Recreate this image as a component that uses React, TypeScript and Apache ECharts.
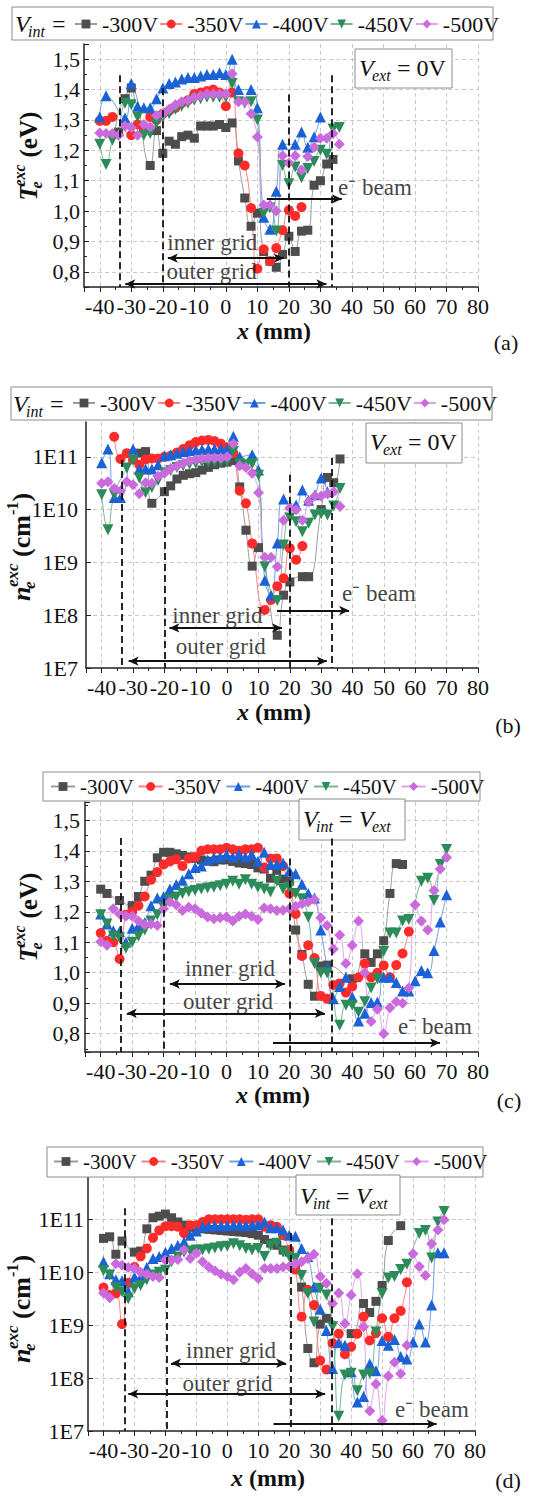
import React, { useEffect, useRef } from "react";
import * as echarts from "echarts";

const SERIF = "'Liberation Serif', 'Times New Roman', serif";

const seriesNames = ["-300V", "-350V", "-400V", "-450V", "-500V"];
const markerColors = ["#4d4d4d", "#ff2b2b", "#1b62d6", "#2b8c5a", "#c96bdc"];
const lineColors = ["#9a9a9a", "#ff8080", "#6f9de2", "#76b596", "#dda2ea"];
const markerShapes = ["rect", "circle", "triangle", "triangle", "diamond"];
const markerRotate = [0, 0, 0, 180, 0];
const markerSizes = [9, 10, 11, 11, 11];

const xTickLabels = ["-40", "-30", "-20", "-10", "0", "10", "20", "30", "40", "50", "60", "70", "80"];

// (a) T_e^exc (eV), V_ext = 0V
const teA300 = [[-34,1.26],[-32,1.37],[-30,1.405],[-24,1.15],[-22,1.265],[-20,1.19],[-18,1.23],[-16,1.22],[-14,1.245],[-12,1.25],[-10,1.24],[-8,1.28],[-6,1.28],[-4,1.28],[-2,1.285],[0,1.275],[2,1.29],[4,1.165],[6,1.043],[8,0.95],[10,0.993],[12,0.867],[14,0.835],[16,0.815],[18,0.857],[20,0.917],[22,0.867],[24,0.934],[26,0.937],[28,1.085],[30,1.1],[32,1.155],[34,1.17]];
const teA350 = [[-40,1.297],[-38,1.297],[-36,1.31],[-30,1.25],[-28,1.285],[-26,1.27],[-24,1.31],[-22,1.3],[-20,1.32],[-18,1.33],[-16,1.34],[-14,1.355],[-12,1.365],[-10,1.385],[-8,1.39],[-6,1.395],[-4,1.4],[-2,1.39],[0,1.345],[2,1.39],[4,1.19],[6,1.15],[8,1.01],[10,0.81],[12,0.874],[14,0.835],[16,0.878],[18,0.937],[20,1.003],[22,0.984],[24,1.013]];
const teA400 = [[-40,1.31],[-38,1.38],[-32,1.306],[-30,1.42],[-28,1.345],[-26,1.34],[-24,1.34],[-22,1.37],[-20,1.405],[-18,1.42],[-16,1.425],[-14,1.435],[-12,1.44],[-10,1.44],[-8,1.445],[-6,1.45],[-4,1.45],[-2,1.455],[0,1.45],[2,1.5],[4,1.4],[8,1.4],[10,1.34],[12,0.98],[14,0.94],[16,1.065],[18,1.22],[22,1.22],[24,1.26],[26,1.21],[28,1.245],[30,1.31]];
const teA450 = [[-40,1.22],[-38,1.153],[-36,1.233],[-32,1.355],[-30,1.35],[-28,1.31],[-26,1.25],[-24,1.255],[-22,1.29],[-20,1.31],[-18,1.32],[-16,1.335],[-14,1.345],[-12,1.355],[-10,1.365],[-8,1.37],[-6,1.375],[-4,1.375],[-2,1.375],[0,1.375],[2,1.42],[4,1.36],[6,1.355],[8,1.36],[10,1.3],[12,0.993],[14,1.01],[16,0.934],[18,1.15],[20,1.09],[22,1.145],[24,1.11],[26,1.14],[28,1.163],[30,1.2],[32,1.187],[34,1.27],[36,1.275]];
const teA500 = [[-40,1.257],[-38,1.255],[-36,1.255],[-34,1.25],[-32,1.28],[-30,1.275],[-28,1.25],[-26,1.285],[-24,1.277],[-22,1.315],[-20,1.32],[-18,1.335],[-16,1.35],[-14,1.36],[-12,1.365],[-10,1.375],[-8,1.38],[-6,1.385],[-4,1.385],[-2,1.385],[0,1.385],[2,1.452],[4,1.36],[6,1.36],[8,1.32],[10,1.244],[12,1.02],[14,1.02],[16,1.0],[18,1.182],[20,1.158],[22,1.182],[24,1.135],[26,1.18],[28,1.21],[30,1.24],[32,1.24],[34,1.255],[36,1.22]];

// (b) log10 of n_e^exc (cm^-1), V_ext = 0V
const neB300 = [[-28,11.07],[-26,11.1],[-24,10.12],[-20,10.34],[-18,10.45],[-16,10.58],[-14,10.65],[-12,10.68],[-10,10.7],[-8,10.75],[-6,10.8],[-4,10.85],[-2,10.88],[0,10.9],[2,10.93],[4,10.43],[6,9.61],[8,8.93],[10,9.28],[16,7.62],[18,8.38],[20,8.63],[24,8.73],[26,8.73],[30,10.0],[32,10.61],[34,10.51],[36,10.96]];
const neB350 = [[-36,11.38],[-34,10.96],[-32,11.07],[-30,10.95],[-28,10.85],[-26,10.95],[-24,10.97],[-22,10.97],[-20,11.0],[-18,11.02],[-16,11.08],[-14,11.15],[-12,11.22],[-10,11.28],[-8,11.31],[-6,11.32],[-4,11.3],[-2,11.25],[0,11.18],[2,11.07],[4,10.36],[6,10.12],[8,9.36],[12,8.1],[14,8.29],[16,8.55],[18,8.7],[20,9.27],[22,9.05],[24,9.31]];
const neB400 = [[-40,10.89],[-38,11.15],[-36,10.23],[-34,10.23],[-30,11.15],[-28,10.77],[-26,10.77],[-24,10.77],[-22,10.85],[-20,11.02],[-18,11.04],[-16,11.07],[-14,11.1],[-12,11.12],[-10,11.13],[-8,11.14],[-6,11.15],[-4,11.15],[-2,11.15],[0,11.15],[2,11.39],[4,11.0],[8,11.04],[10,10.75],[12,8.66],[14,8.38],[16,9.37],[18,10.2],[22,10.09],[24,10.37],[26,10.18],[28,10.28],[30,10.6],[32,10.34]];
const neB450 = [[-40,10.28],[-38,9.62],[-36,10.28],[-32,10.79],[-30,10.94],[-28,10.6],[-26,10.32],[-24,10.42],[-22,10.55],[-20,10.7],[-18,10.74],[-16,10.8],[-14,10.83],[-12,10.86],[-10,10.88],[-8,10.9],[-6,10.9],[-4,10.9],[-2,10.9],[0,10.9],[2,11.1],[4,10.87],[6,10.85],[8,10.87],[10,10.65],[12,8.92],[16,8.28],[18,9.33],[20,9.84],[22,9.77],[24,9.58],[26,9.74],[28,9.9],[30,9.92],[32,9.9],[34,10.07],[36,10.4]];
const neB500 = [[-40,10.5],[-38,10.53],[-36,10.4],[-34,10.36],[-32,10.53],[-30,10.47],[-28,10.3],[-26,10.51],[-24,10.5],[-22,10.63],[-20,10.69],[-18,10.78],[-16,10.82],[-14,10.88],[-12,10.92],[-10,10.95],[-8,10.97],[-6,10.98],[-4,10.98],[-2,10.98],[0,11.0],[2,11.25],[4,10.83],[6,10.8],[8,10.69],[10,10.32],[12,9.1],[14,9.1],[16,8.92],[18,9.8],[20,10.03],[22,10.0],[24,9.8],[26,10.15],[28,10.26],[30,10.26],[32,10.3],[34,10.34],[36,10.06]];

// (c) T_e^exc (eV), V_int = V_ext
const teC300 = [[-40,1.274],[-38,1.26],[-34,1.237],[-30,1.22],[-28,1.25],[-26,1.3],[-24,1.32],[-22,1.377],[-20,1.395],[-18,1.395],[-16,1.39],[-14,1.385],[-12,1.38],[-10,1.375],[-8,1.37],[-6,1.366],[-4,1.364],[-2,1.37],[0,1.37],[2,1.365],[4,1.36],[6,1.358],[8,1.355],[10,1.344],[12,1.34],[14,1.31],[16,1.336],[18,1.307],[20,1.3],[22,1.14],[24,1.06],[26,0.962],[28,0.923],[30,1.022],[32,1.025],[40,0.98],[44,1.062],[46,1.034],[48,1.062],[50,1.105],[52,1.26],[54,1.358],[56,1.355]];
const teC350 = [[-40,1.13],[-38,1.105],[-36,1.1],[-34,1.045],[-32,1.19],[-30,1.2],[-28,1.22],[-26,1.25],[-24,1.305],[-22,1.33],[-20,1.355],[-18,1.365],[-16,1.372],[-14,1.35],[-12,1.375],[-10,1.38],[-8,1.4],[-6,1.405],[-4,1.405],[-2,1.405],[0,1.41],[2,1.405],[4,1.4],[6,1.405],[8,1.405],[10,1.41],[12,1.345],[14,1.375],[16,1.375],[18,1.35],[20,1.26],[22,1.193],[24,1.055],[26,1.09],[28,1.048],[30,0.924],[32,0.915],[34,0.96],[36,0.965],[38,0.935],[40,0.955],[42,0.985],[44,1.03],[46,0.985],[48,1.0],[50,1.024],[52,0.985],[54,1.025],[56,1.063],[58,1.135]];
const teC400 = [[-40,1.193],[-38,1.16],[-36,1.138],[-34,1.135],[-32,1.1],[-30,1.146],[-28,1.153],[-26,1.165],[-24,1.22],[-22,1.245],[-20,1.25],[-18,1.275],[-16,1.289],[-14,1.303],[-12,1.325],[-10,1.345],[-8,1.35],[-6,1.37],[-4,1.378],[-2,1.38],[0,1.388],[2,1.38],[4,1.388],[6,1.38],[8,1.388],[10,1.366],[12,1.395],[14,1.355],[16,1.355],[18,1.36],[20,1.334],[22,1.325],[24,1.29],[26,1.26],[28,1.245],[30,1.14],[32,1.018],[34,0.915],[36,0.955],[38,0.985],[40,0.92],[42,0.842],[44,0.867],[46,0.902],[48,0.904],[50,0.985],[52,0.985],[54,0.968],[56,0.94],[58,0.94],[60,0.974],[62,1.007],[64,1.0],[66,1.073],[68,1.166],[70,1.256]];
const teC450 = [[-40,1.19],[-38,1.16],[-36,1.12],[-34,1.114],[-32,1.08],[-30,1.1],[-28,1.12],[-26,1.14],[-24,1.17],[-22,1.19],[-20,1.215],[-18,1.24],[-16,1.248],[-14,1.26],[-12,1.266],[-10,1.27],[-8,1.275],[-6,1.278],[-4,1.28],[-2,1.285],[0,1.29],[2,1.3],[4,1.29],[6,1.305],[8,1.29],[10,1.28],[12,1.275],[14,1.265],[16,1.3],[18,1.275],[20,1.28],[22,1.26],[24,1.243],[26,1.182],[28,1.03],[30,1.0],[32,0.999],[36,0.828],[38,0.893],[40,0.893],[42,0.87],[44,0.905],[46,0.95],[48,0.98],[50,1.07],[52,1.13],[54,1.13],[56,1.17],[58,1.175],[62,1.3],[64,1.31],[66,1.237],[68,1.355],[70,1.404]];
const teC500 = [[-40,1.102],[-38,1.09],[-36,1.21],[-34,1.193],[-32,1.186],[-30,1.186],[-28,1.17],[-26,1.157],[-24,1.16],[-22,1.155],[-20,1.21],[-18,1.232],[-16,1.223],[-14,1.204],[-12,1.215],[-10,1.21],[-8,1.195],[-6,1.183],[-4,1.177],[-2,1.18],[0,1.183],[2,1.17],[4,1.185],[6,1.193],[8,1.185],[10,1.175],[12,1.212],[14,1.21],[16,1.204],[18,1.205],[20,1.21],[22,1.218],[24,1.226],[26,1.232],[28,1.24],[30,1.18],[32,1.155],[34,1.078],[36,1.124],[38,1.03],[40,1.09],[42,1.17],[44,1.0],[46,0.84],[48,0.88],[50,0.8],[52,0.885],[54,0.905],[56,0.9],[58,0.95],[60,1.223],[62,1.17],[64,1.14],[66,1.27],[68,1.34],[70,1.378]];

// (d) log10 of n_e^exc (cm^-1), V_int = V_ext
const neD300 = [[-40,10.64],[-38,10.67],[-36,10.34],[-34,10.59],[-30,10.38],[-28,10.4],[-26,10.82],[-24,11.03],[-22,11.06],[-20,11.1],[-18,11.03],[-16,10.95],[-14,10.89],[-12,10.85],[-10,10.83],[-8,10.82],[-6,10.81],[-4,10.8],[-2,10.79],[0,10.78],[2,10.77],[4,10.76],[6,10.75],[8,10.73],[10,10.7],[12,10.62],[14,10.55],[16,10.51],[18,10.42],[20,10.38],[22,10.1],[24,9.72],[26,8.56],[28,8.29],[30,9.02],[32,9.13],[40,8.84],[44,9.41],[46,9.24],[48,9.45],[50,9.75],[52,10.6],[56,10.88]];
const neD350 = [[-40,9.71],[-38,9.57],[-36,9.6],[-34,9.02],[-32,9.8],[-30,10.1],[-28,10.3],[-26,10.45],[-24,10.65],[-22,10.79],[-20,10.87],[-18,10.87],[-16,10.86],[-14,10.74],[-12,10.89],[-10,10.89],[-8,10.95],[-6,11.0],[-4,11.0],[-2,11.0],[0,11.0],[2,11.0],[4,11.0],[6,10.99],[8,11.0],[10,11.0],[12,10.86],[14,10.89],[16,10.86],[18,10.7],[20,10.42],[22,10.05],[24,9.16],[26,9.67],[28,9.38],[30,8.33],[32,8.16],[34,8.66],[36,8.84],[38,8.45],[40,8.59],[42,8.84],[44,9.16],[46,8.71],[48,8.85],[50,9.13],[52,8.78],[54,9.13],[56,9.27],[58,9.81]];
const neD400 = [[-40,10.2],[-38,9.97],[-36,9.86],[-34,9.84],[-32,9.63],[-30,9.91],[-28,9.9],[-26,10.09],[-24,10.26],[-22,10.3],[-20,10.38],[-18,10.45],[-16,10.51],[-14,10.57],[-12,10.7],[-10,10.78],[-8,10.86],[-6,10.87],[-4,10.88],[-2,10.88],[0,10.88],[2,10.89],[4,10.89],[6,10.88],[8,10.9],[10,10.9],[12,10.95],[14,10.84],[16,10.84],[18,10.8],[20,10.7],[22,10.68],[24,10.45],[26,10.3],[28,9.72],[30,9.3],[32,8.9],[34,8.18],[36,8.67],[38,8.62],[40,8.12],[42,7.55],[44,7.65],[46,8.27],[48,8.14],[50,8.71],[52,8.62],[54,8.73],[56,8.41],[58,8.36],[60,8.68],[62,9.02],[64,8.68],[66,9.38],[68,10.37],[70,10.37]];
const neD450 = [[-40,10.03],[-38,9.95],[-36,9.71],[-34,9.63],[-32,9.5],[-30,9.69],[-28,9.75],[-26,9.86],[-24,9.95],[-22,10.0],[-20,10.04],[-18,10.2],[-16,10.29],[-14,10.38],[-12,10.4],[-10,10.42],[-8,10.42],[-6,10.44],[-4,10.46],[-2,10.48],[0,10.49],[2,10.54],[4,10.5],[6,10.45],[8,10.42],[10,10.45],[12,10.3],[14,10.5],[16,10.55],[18,10.38],[20,10.3],[22,10.26],[24,9.94],[26,9.6],[28,9.06],[30,9.7],[32,9.57],[34,8.97],[36,7.28],[38,8.06],[40,8.09],[42,7.76],[44,8.06],[46,8.09],[48,8.87],[50,9.6],[52,9.89],[54,9.92],[56,10.05],[58,10.15],[62,10.73],[64,10.79],[66,10.27],[68,10.95],[70,11.15]];
const neD500 = [[-40,9.61],[-38,9.52],[-36,10.16],[-34,10.13],[-32,10.09],[-30,10.07],[-28,10.0],[-26,9.96],[-24,9.92],[-22,9.9],[-20,10.23],[-18,10.23],[-16,10.24],[-14,10.42],[-12,10.26],[-10,10.36],[-8,10.2],[-6,10.1],[-4,10.03],[-2,9.96],[0,9.92],[2,9.86],[4,10.0],[6,10.07],[8,9.97],[10,9.88],[12,10.07],[14,10.07],[16,10.07],[18,10.1],[20,10.11],[22,10.16],[24,10.2],[26,10.26],[28,10.34],[30,9.92],[32,9.79],[34,9.41],[36,9.61],[38,9.03],[40,9.57],[42,9.97],[44,8.97],[46,7.38],[48,7.89],[50,7.2],[52,8.04],[54,8.3],[56,8.08],[58,8.62],[60,10.35],[62,10.11],[64,9.94],[66,10.54],[68,10.8],[70,10.99]];

// grid-boundary dashed lines: [x, top]
const dashA = [[-33.5, 1.447], [-20, 1.404], [20, 1.384], [33.5, 1.447]];
const dashB = [[-33.5, 10.94], [-20, 10.43], [20, 10.66], [33.5, 10.98]];
const dashC = [[-33.5, 1.442], [-20, 1.243], [20, 1.375], [33.5, 1.44]];
const dashD = [[-33.2, 11.21], [-19.7, 10.29], [20.5, 10.74], [33.8, 11.02]];
// arrows: [x1, x2, y, heads]
const arrowsA = [[-18.4, 18.4, 0.845, 2], [-31.9, 31.9, 0.76, 2], [13, 36.8, 1.04, 1]];
const arrowsB = [[-18.4, 17.5, 7.76, 2], [-31.4, 31.8, 7.13, 2], [15.9, 38.9, 8.09, 1]];
const arrowsC = [[-18.0, 18.6, 0.963, 2], [-31.7, 31.3, 0.867, 2], [14.8, 67.9, 0.77, 1]];
const arrowsD = [[-18.2, 19.0, 8.28, 2], [-32.0, 31.6, 7.7, 2], [14.9, 67.6, 7.13, 1]];
const textsA = [["inner grid", -4.3, 0.895], ["outer grid", -4.5, 0.8], ["e⁻ beam", 47.3, 1.076]];
const textsB = [["inner grid", -3.1, 8.0], ["outer grid", -2, 7.41], ["e⁻ beam", 48.4, 8.42]];
const textsC = [["inner grid", 1.1, 1.0145], ["outer grid", 0.5, 0.905], ["e⁻ beam", 66.3, 0.823]];
const textsD = [["inner grid", 1.2, 8.53], ["outer grid", 0.06, 7.9], ["e⁻ beam", 66.1, 7.4]];

type Panel = {
  log: boolean;
  grid: { left: number; top: number; width: number; height: number };
  yMin: number;
  yMax: number;
  yMargin: number;
  data: number[][][];
  dash: number[][];
  arrows: number[][];
  texts: (string | number)[][];
  legend: { left: number; top: number; itemWidth: number; itemGap: number; fontSize: number };
};

const panels: Panel[] = [
  { log: false, grid: { left: 84, top: 44, width: 394, height: 243 }, yMin: 0.75, yMax: 1.55, yMargin: 4,
    data: [teA300, teA350, teA400, teA450, teA500], dash: dashA, arrows: arrowsA, texts: textsA,
    legend: { left: 74, top: 13, itemWidth: 22, itemGap: 1, fontSize: 22 } },
  { log: true, grid: { left: 86, top: 422, width: 392, height: 246 }, yMin: 7, yMax: 11.66, yMargin: 8,
    data: [neB300, neB350, neB400, neB450, neB500], dash: dashB, arrows: arrowsB, texts: textsB,
    legend: { left: 72, top: 392, itemWidth: 22, itemGap: 1, fontSize: 22 } },
  { log: false, grid: { left: 85, top: 802, width: 393, height: 250 }, yMin: 0.74, yMax: 1.56, yMargin: 5,
    data: [teC300, teC350, teC400, teC450, teC500], dash: dashC, arrows: arrowsC, texts: textsC,
    legend: { left: 50, top: 776, itemWidth: 24, itemGap: 4, fontSize: 21 } },
  { log: true, grid: { left: 88, top: 1177, width: 387, height: 254 }, yMin: 7, yMax: 11.8, yMargin: 4,
    data: [neD300, neD350, neD400, neD450, neD500], dash: dashD, arrows: arrowsD, texts: textsD,
    legend: { left: 53, top: 1151, itemWidth: 24, itemGap: 4, fontSize: 21 } },
];

function txt(text: string, x: number, y: number, size: number, o: any = {}) {
  const align = o.align || "left";
  const font = `${o.italic ? "italic " : ""}${o.bold ? "bold " : ""}${size}px ${SERIF}`;
  return {
    type: "text", x, y, silent: true, z: 10,
    style: { text, fill: "#111", font, textAlign: align, textVerticalAlign: "middle", align, verticalAlign: "middle" },
  };
}

function box(x: number, y: number, w: number, h: number) {
  return { type: "rect", silent: true, z: 1, shape: { x, y, width: w, height: h }, style: { fill: "#fff", stroke: "#8c8c8c", lineWidth: 1 } };
}

function yNameTe(cx: number, cy: number) {
  const L = 89;
  return {
    type: "group", x: cx, y: cy + L / 2, rotation: Math.PI / 2,
    children: [
      txt("T", 0, 0, 25, { italic: true, bold: true }),
      txt("e", 12, 8, 16, { italic: true, bold: true }),
      txt("exc", 14, -9, 16, { italic: true, bold: true }),
      txt("(eV)", 43, 0, 25, { bold: true }),
    ],
  };
}

function yNameNe(cx: number, cy: number) {
  const L = 108;
  return {
    type: "group", x: cx, y: cy + L / 2, rotation: Math.PI / 2,
    children: [
      txt("n", 0, 0, 26, { italic: true, bold: true }),
      txt("e", 12, 8, 17, { italic: true, bold: true }),
      txt("exc", 14, -9, 17, { italic: true, bold: true }),
      txt("(cm", 44, 0, 26, { bold: true }),
      txt("-1", 86, -9, 16, { bold: true }),
      txt(")", 99.5, 0, 26, { bold: true }),
    ],
  };
}

function xName(cx: number, cy: number) {
  const s = cx - 37;
  return [txt("x", s, cy, 24, { italic: true, bold: true }), txt("(mm)", s + 18, cy, 24, { bold: true })];
}

function buildOption() {
  const grids: any[] = [];
  const xAxes: any[] = [];
  const yAxes: any[] = [];
  const series: any[] = [];
  const legends: any[] = [];

  panels.forEach((p, i) => {
    const Y = (v: number) => (p.log ? Math.pow(10, v) : v);
    grids.push({ ...p.grid, containLabel: false, outerBoundsMode: "none" });
    xAxes.push({
      type: "value", gridIndex: i, min: -45, max: 80, splitNumber: 12,
      axisLine: { show: true, onZero: false, lineStyle: { color: "#222", width: 1.5 } },
      axisTick: { show: true, inside: false, length: 5, lineStyle: { color: "#222", width: 1 } },
      minorTick: { show: true, splitNumber: 2, length: 3, lineStyle: { color: "#222", width: 1 } },
      axisLabel: {
        show: true, fontFamily: SERIF, fontSize: 22, color: "#111", margin: 8, showMinLabel: false, hideOverlap: false,
        formatter: (v: number) => (xTickLabels.includes(String(Math.round(v))) ? String(Math.round(v)) : ""),
      },
      splitLine: { show: true, showMinLine: false, lineStyle: { color: "#c9c9c9", type: [4, 3], width: 1 } },
    });
    const yCommon = {
      gridIndex: i,
      axisLine: { show: true, onZero: false, lineStyle: { color: "#222", width: 1.5 } },
      axisTick: { show: true, inside: true, length: 5, lineStyle: { color: "#222", width: 1 } },
      splitLine: { show: true, showMinLine: false, showMaxLine: false, lineStyle: { color: "#c9c9c9", type: [4, 3], width: 1 } },
    };
    if (p.log) {
      yAxes.push({
        ...yCommon, type: "log", logBase: 10, min: Math.pow(10, p.yMin), max: Math.pow(10, p.yMax),
        axisLabel: {
          fontFamily: SERIF, fontSize: 22, color: "#111", margin: p.yMargin, showMaxLabel: false, hideOverlap: false,
          formatter: (v: number) => {
            const e = Math.log10(v);
            return Math.abs(e - Math.round(e)) < 0.01 ? "1E" + Math.round(e) : "";
          },
        },
      });
    } else {
      yAxes.push({
        ...yCommon, type: "value", min: p.yMin, max: p.yMax, splitNumber: 8,
        minorTick: { show: true, splitNumber: 2, length: 3, lineStyle: { color: "#222", width: 1 } },
        axisLabel: {
          fontFamily: SERIF, fontSize: 22, color: "#111", margin: p.yMargin, showMinLabel: false, showMaxLabel: false, hideOverlap: false,
          formatter: (v: number) => v.toFixed(1).replace(".", ","),
        },
      });
    }

    p.data.forEach((arr, s) => {
      series.push({
        type: "line", name: seriesNames[s], xAxisIndex: i, yAxisIndex: i,
        data: arr.map(([x, y]) => [x, Y(y)]),
        smooth: 0.5, showSymbol: true, symbol: markerShapes[s], symbolSize: markerSizes[s], symbolRotate: markerRotate[s],
        itemStyle: { color: markerColors[s] }, lineStyle: { color: lineColors[s], width: 1 },
        emphasis: { disabled: true }, silent: true, z: 2,
      });
    });

    const bottom = p.log ? Math.pow(10, p.yMin) : p.yMin;
    const mlData: any[] = [];
    p.dash.forEach(([x, top]) => {
      mlData.push([
        { coord: [x, Y(top)], symbol: "none", lineStyle: { type: [7, 4], width: 1.8, color: "#111" } },
        { coord: [x, bottom], symbol: "none" },
      ]);
    });
    p.arrows.forEach(([x1, x2, y, heads]) => {
      mlData.push([
        { coord: [x1, Y(y)], symbol: heads === 2 ? "arrow" : "none", symbolSize: [7, 10], lineStyle: { type: "solid", width: 1.8, color: "#111" } },
        { coord: [x2, Y(y)], symbol: "arrow", symbolSize: [7, 10] },
      ]);
    });
    series.push({
      type: "scatter", xAxisIndex: i, yAxisIndex: i, symbolSize: 0, silent: true, z: 5,
      data: p.texts.map(([t, x, y]) => ({ value: [x, Y(y as number)], label: { show: true, formatter: t } })),
      label: { show: true, position: "inside", fontFamily: SERIF, fontSize: 23, color: "#111" },
      markLine: {
        silent: true, animation: false, symbol: ["none", "none"], label: { show: false },
        lineStyle: { color: "#111", width: 1.8, type: "solid" }, emphasis: { disabled: true }, data: mlData,
      },
    });

    legends.push({
      data: seriesNames, left: p.legend.left, top: p.legend.top, orient: "horizontal",
      itemWidth: p.legend.itemWidth, itemHeight: 11, itemGap: p.legend.itemGap, padding: 0,
      selectedMode: false, z: 5,
      textStyle: { fontFamily: SERIF, fontSize: p.legend.fontSize, color: "#111" },
    });
  });

  const graphics: any[] = [
    box(12, 7, 481, 33),
    box(11, 387, 481, 33),
    box(43, 772, 437, 29),
    box(47, 1147, 436, 30),
    txt("V", 15, 24, 24, { italic: true }), txt("int", 28, 31, 16, { italic: true }), txt("=", 52, 24, 24),
    txt("V", 13, 404, 24, { italic: true }), txt("int", 26, 411, 16, { italic: true }), txt("=", 50, 404, 24),
    box(355, 49, 97, 39),
    txt("V", 359, 68, 24, { italic: true }), txt("ext", 372, 75, 16, { italic: true }), txt("= 0V", 397, 68, 24),
    box(366, 423, 96, 40),
    txt("V", 370, 442, 24, { italic: true }), txt("ext", 383, 449, 16, { italic: true }), txt("= 0V", 408, 442, 24),
    box(299, 799, 106, 41),
    txt("V", 303, 819, 24, { italic: true }), txt("int", 316, 826, 16, { italic: true }), txt("=", 339, 819, 24),
    txt("V", 359, 819, 24, { italic: true }), txt("ext", 372, 826, 16, { italic: true }),
    box(296, 1175, 104, 40),
    txt("V", 300, 1196, 24, { italic: true }), txt("int", 313, 1203, 16, { italic: true }), txt("=", 336, 1196, 24),
    txt("V", 356, 1196, 24, { italic: true }), txt("ext", 369, 1203, 16, { italic: true }),
    yNameTe(28, 156),
    yNameNe(21, 547),
    yNameTe(28, 917),
    yNameNe(21, 1309),
    ...xName(274, 331),
    ...xName(274, 712),
    ...xName(273, 1095),
    ...xName(268, 1478),
    txt("(a)", 506, 342, 22, { align: "center" }),
    txt("(b)", 508, 725, 22, { align: "center" }),
    txt("(c)", 509, 1100, 22, { align: "center" }),
    txt("(d)", 508, 1480, 22, { align: "center" }),
  ];

  return {
    animation: false,
    backgroundColor: "#fff",
    textStyle: { fontFamily: SERIF },
    grid: grids,
    xAxis: xAxes,
    yAxis: yAxes,
    legend: legends,
    series,
    graphic: { elements: graphics },
  };
}

export default function App() {
  const ref = useRef<HTMLDivElement>(null);
  useEffect(() => {
    if (!ref.current) return;
    const chart = echarts.init(ref.current, null, { renderer: "svg" });
    chart.setOption(buildOption() as any);
    return () => chart.dispose();
  }, []);
  return <div ref={ref} style={{ position: "absolute", left: 0, top: 0, width: 536, height: 1497, background: "#fff" }} />;
}
